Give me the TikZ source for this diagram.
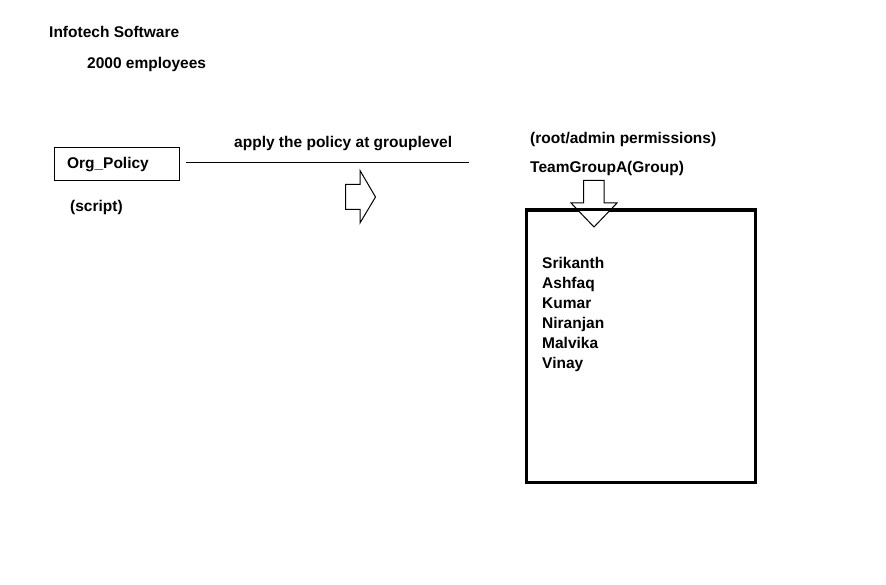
\documentclass[tikz,border=0pt]{standalone}
\usepackage{fontspec}
\setmainfont{Liberation Sans}
\begin{document}
\begin{tikzpicture}[x=1pt,y=-1pt,
  lbl/.style={font=\fontsize{15.5}{18}\selectfont\bfseries, inner sep=0pt, anchor=west, text height=11pt, text depth=3.5pt},
  thinline/.style={draw=black, line width=1pt},
  bigbox/.style={draw=black, line width=3pt},
  hollow/.style={draw=black, line width=1pt, fill=white, line join=miter}]
\useasboundingbox (0,0) rectangle (886,585);
\fill[white] (0,0) rectangle (886,585);
% titles
\node[lbl] (company) at (49,33.5) {Infotech Software};
\node[lbl] (emp) at (87,64.5) {2000 employees};
% policy box
\node[thinline, minimum width=125pt, minimum height=33pt, inner ysep=0pt, inner xsep=13pt,
      text width=99pt, align=left, text height=11pt, text depth=3.5pt,
      font=\fontsize{15.5}{18}\selectfont\bfseries] (org) at (116.5,164.5) {Org\_Policy};
\node[lbl] (script) at (70,207.5) {(script)};
% connector
\coordinate (lstart) at (186,163);
\coordinate (lend) at (469,163);
\draw[thinline] (lstart) -- (lend);
\node[lbl] (apply) at (234,143.5) {apply the policy at grouplevel};
% right arrow
\draw[hollow] (345.5,184.5) -- (360,184.5) -- (360,170.5) -- (375.5,197) -- (360,223) -- (360,209.5) -- (345.5,209.5) -- cycle;
% group labels
\node[lbl] (perm) at (530,139.5) {(root/admin permissions)};
\node[lbl] (team) at (530,168.5) {TeamGroupA(Group)};
% group box
\node[bigbox, minimum width=229pt, minimum height=271pt, inner sep=0pt] (grp) at (640.5,346.5) {};
% down arrow
\draw[hollow] (583.5,180.5) -- (604,180.5) -- (604,203) -- (617,203) -- (594,227) -- (571,203) -- (583.5,203) -- cycle;
\draw[bigbox] (grp.north west) -- (grp.north east);
% members
\node[lbl] (m1) at (542,264.5) {Srikanth};
\node[lbl] (m2) at (542,284.5) {Ashfaq};
\node[lbl] (m3) at (542,304.5) {Kumar};
\node[lbl] (m4) at (542,324.5) {Niranjan};
\node[lbl] (m5) at (542,344.5) {Malvika};
\node[lbl] (m6) at (542,364.5) {Vinay};
\end{tikzpicture}
\end{document}
